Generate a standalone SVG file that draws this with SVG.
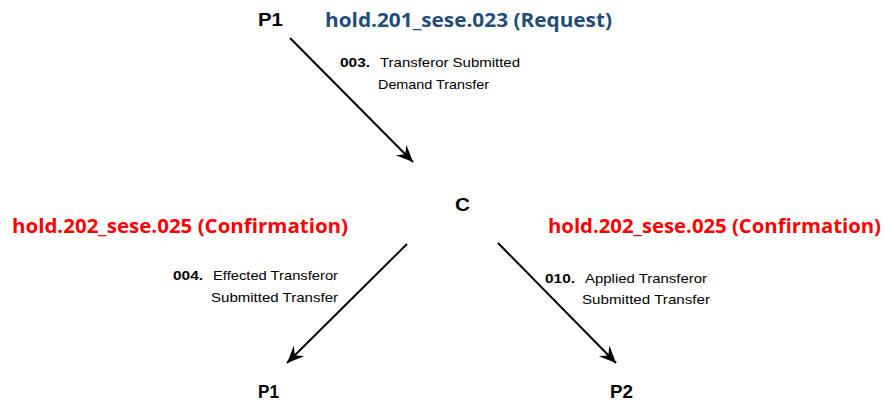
<svg xmlns="http://www.w3.org/2000/svg" width="884" height="401" viewBox="0 0 884 401">
  <style>
    .node { font-family: "Liberation Sans", Arial, sans-serif; font-weight: bold; font-size: 18px; fill: #000; }
    .msg { font-family: "Liberation Sans", Arial, sans-serif; font-size: 13px; fill: #000; }
    .num { font-weight: bold; }
    .title { font-family: "Open Sans", "Liberation Sans", sans-serif; font-weight: bold; font-size: 20px; }
    .req { fill: #1F4E79; }
    .conf { fill: #FF0000; }
    .flow { stroke: #000; stroke-width: 2; fill: none; marker-end: url(#head); }
  </style>
  <defs>
    <marker id="head" viewBox="-18 -8 20 16" markerWidth="20" markerHeight="16" refX="0" refY="0" orient="auto" markerUnits="userSpaceOnUse">
      <path d="M0,0 L-17,-7.5 L-11,0 L-17,7.5 Z" fill="#000"/>
    </marker>
  </defs>

  <rect width="884" height="401" fill="#fff"/>

  <!-- message type labels -->
  <text class="title req" x="325" y="27" textLength="287" lengthAdjust="spacingAndGlyphs">hold.201_sese.023 (Request)</text>
  <text class="title conf" x="12" y="233" textLength="336" lengthAdjust="spacingAndGlyphs">hold.202_sese.025 (Confirmation)</text>
  <text class="title conf" x="548" y="233" textLength="333" lengthAdjust="spacingAndGlyphs">hold.202_sese.025 (Confirmation)</text>

  <!-- parties -->
  <g id="p1-top">
    <text class="node" x="258" y="26" textLength="25" lengthAdjust="spacingAndGlyphs">P1</text>
  </g>
  <g id="c">
    <text class="node" x="455" y="211" textLength="15" lengthAdjust="spacingAndGlyphs">C</text>
  </g>
  <g id="p1-bottom">
    <text class="node" x="258" y="398" textLength="21" lengthAdjust="spacingAndGlyphs">P1</text>
  </g>
  <g id="p2">
    <text class="node" x="610" y="398" textLength="23" lengthAdjust="spacingAndGlyphs">P2</text>
  </g>

  <!-- flows -->
  <g id="connectors">
    <line class="flow" x1="290" y1="38" x2="413" y2="162"/>
    <line class="flow" x1="407" y1="244" x2="287" y2="363"/>
    <line class="flow" x1="498" y1="243" x2="616" y2="363"/>
  </g>

  <!-- flow labels -->
  <g id="label-003">
    <text class="msg num" x="340" y="67" textLength="30" lengthAdjust="spacingAndGlyphs">003.</text>
    <text class="msg" x="380" y="67" textLength="140" lengthAdjust="spacingAndGlyphs">Transferor Submitted</text>
    <text class="msg" x="378" y="89" textLength="111" lengthAdjust="spacingAndGlyphs">Demand Transfer</text>
  </g>
  <g id="label-004">
    <text class="msg num" x="173" y="280" textLength="30" lengthAdjust="spacingAndGlyphs">004.</text>
    <text class="msg" x="213" y="280" textLength="125" lengthAdjust="spacingAndGlyphs">Effected Transferor</text>
    <text class="msg" x="211" y="302" textLength="127" lengthAdjust="spacingAndGlyphs">Submitted Transfer</text>
  </g>
  <g id="label-010">
    <text class="msg num" x="545" y="283" textLength="30" lengthAdjust="spacingAndGlyphs">010.</text>
    <text class="msg" x="585" y="283" textLength="122" lengthAdjust="spacingAndGlyphs">Applied Transferor</text>
    <text class="msg" x="582" y="304" textLength="128" lengthAdjust="spacingAndGlyphs">Submitted Transfer</text>
  </g>
</svg>
